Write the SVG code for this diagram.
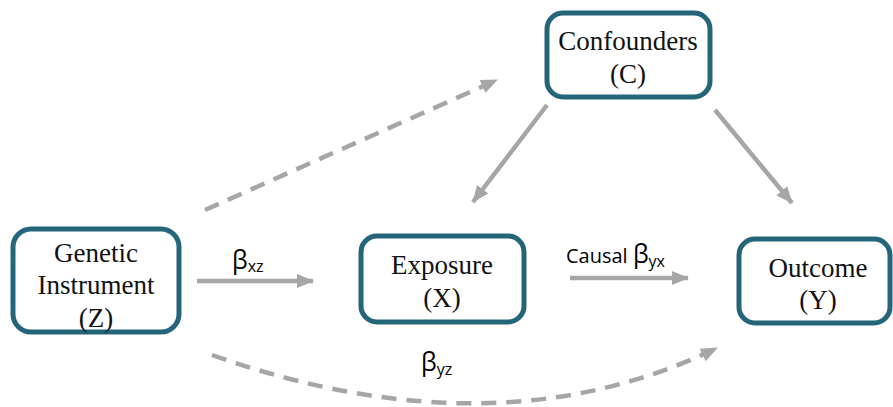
<svg xmlns="http://www.w3.org/2000/svg" width="893" height="407" viewBox="0 0 893 407">
<defs>
<style>
.box{fill:#fff;stroke:#246579;stroke-width:5}
.lbl{font-family:"Liberation Serif","Times New Roman",serif;font-size:27px;fill:#111;text-anchor:middle}
.ar{fill:none;stroke:#a6a6a6;stroke-width:4.5}
.dash{stroke-dasharray:15 10}
.greek{font-family:"Open Sans","Liberation Sans",sans-serif;fill:#000}
</style>
<marker id="ah" markerUnits="userSpaceOnUse" markerWidth="18" markerHeight="16" refX="16" refY="8" orient="auto">
<path d="M0,1 L17,8 L0,15 Z" fill="#a6a6a6"/>
</marker>
</defs>
<rect width="893" height="407" fill="#fff"/>
<g id="connectors">
<line class="ar" x1="197" y1="281" x2="313" y2="281" marker-end="url(#ah)"/>
<line class="ar" x1="570" y1="278" x2="688" y2="278" marker-end="url(#ah)"/>
<line class="ar dash" x1="205" y1="210" x2="497" y2="80" marker-end="url(#ah)"/>
<line class="ar" x1="547" y1="105" x2="473" y2="202" marker-end="url(#ah)"/>
<line class="ar" x1="715" y1="110" x2="792" y2="203" marker-end="url(#ah)"/>
<path class="ar dash" d="M212,355 Q495,455 717,348" marker-end="url(#ah)"/>
</g>
<g id="node-z">
<rect class="box" x="13" y="229" width="166" height="103" rx="18"/>
<text class="lbl" x="96" y="262">Genetic</text>
<text class="lbl" x="96" y="294">Instrument</text>
<text class="lbl" x="96" y="327">(Z)</text>
</g>
<g id="node-c">
<rect class="box" x="547" y="13" width="163" height="84" rx="16"/>
<text class="lbl" x="628" y="50">Confounders</text>
<text class="lbl" x="628" y="83">(C)</text>
</g>
<g id="node-x">
<rect class="box" x="361" y="236" width="163" height="86" rx="16"/>
<text class="lbl" x="442" y="274">Exposure</text>
<text class="lbl" x="442" y="307">(X)</text>
</g>
<g id="node-y">
<rect class="box" x="739" y="239" width="151" height="84" rx="16"/>
<text class="lbl" x="818" y="277">Outcome</text>
<text class="lbl" x="818" y="309">(Y)</text>
</g>
<g id="labels">
<text class="greek" x="232" y="269" font-size="25">β<tspan font-size="16" dy="3">xz</tspan></text>
<text class="greek" x="566" y="263" font-size="20">Causal <tspan font-size="25">β</tspan><tspan font-size="16" dy="4">yx</tspan></text>
<text class="greek" x="421" y="371" font-size="25">β<tspan font-size="16" dy="4">yz</tspan></text>
</g>
</svg>
